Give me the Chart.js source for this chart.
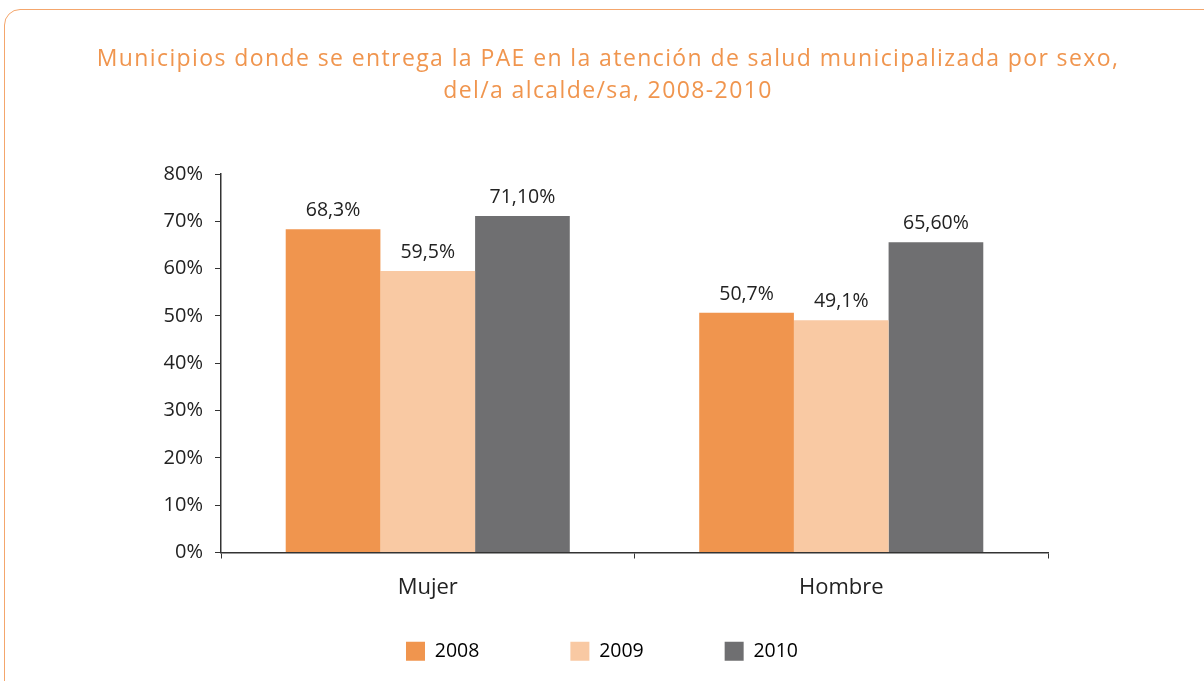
<!DOCTYPE html>
<html>
<head>
<meta charset="utf-8">
<script src="https://cdn.jsdelivr.net/npm/chart.js@4.4.1/dist/chart.umd.min.js"></script>
<style>
  html, body { margin: 0; padding: 0; background: #fff; }
  #wrap { position: relative; width: 1204px; height: 681px; overflow: hidden; }
  #frame { position: absolute; left: 4px; top: 9px; width: 1260px; height: 740px;
           border: 1.5px solid #F4A66C; border-radius: 16px; box-sizing: border-box; }
  #title { position: absolute; left: 6px; top: 42px; width: 1204px; text-align: center;
           font-family: "Open Sans", sans-serif; font-size: 23px; line-height: 31.6px;
           letter-spacing: 1.4px; color: #F0954E; }
  canvas { position: absolute; left: 0; top: 0; }
</style>
</head>
<body>
<div id="wrap">
  <div id="frame"></div>
  <canvas id="c" width="1204" height="681"></canvas>
  <div id="title"></div>
</div>
<script>
const titleLines = ['Municipios donde se entrega la PAE en la atención de salud municipalizada por sexo,', 'del/a alcalde/sa, 2008-2010'];
const categories = ['Mujer', 'Hombre'];
const seriesNames = ['2008', '2009', '2010'];
const values2008 = [68.3, 50.7];
const values2009 = [59.5, 49.1];
const values2010 = [71.1, 65.6];
const labels2008 = ['68,3%', '50,7%'];
const labels2009 = ['59,5%', '49,1%'];
const labels2010 = ['71,10%', '65,60%'];
const yTicks = [0, 10, 20, 30, 40, 50, 60, 70, 80];

const titleEl = document.getElementById('title');
titleLines.forEach((t, i) => {
  if (i) titleEl.appendChild(document.createElement('br'));
  titleEl.appendChild(document.createTextNode(t));
});

const FONT = '"Open Sans", "DejaVu Sans", sans-serif';
const colors = ['#F0954E', '#F9C9A3', '#6F6F71'];

const valueLabelPlugin = {
  id: 'valueLabels',
  afterDatasetsDraw(chart) {
    const ctx = chart.ctx;
    const allLabels = [labels2008, labels2009, labels2010];
    ctx.save();
    ctx.font = '19.5px ' + FONT;
    ctx.fillStyle = '#222';
    ctx.textAlign = 'center';
    ctx.textBaseline = 'alphabetic';
    chart.data.datasets.forEach((ds, di) => {
      const meta = chart.getDatasetMeta(di);
      meta.data.forEach((bar, i) => {
        ctx.fillText(allLabels[di][i], bar.x, bar.y - 13);
      });
    });
    ctx.restore();
  }
};

const legendPad = ['                ', '              ', ''];

new Chart(document.getElementById('c'), {
  type: 'bar',
  data: {
    labels: categories,
    datasets: [
      { label: seriesNames[0], data: values2008, backgroundColor: colors[0] },
      { label: seriesNames[1], data: values2009, backgroundColor: colors[1] },
      { label: seriesNames[2], data: values2010, backgroundColor: colors[2] }
    ]
  },
  options: {
    responsive: false,
    animation: false,
    layout: { padding: { left: 0, right: 0, top: 174, bottom: 10 } },
    datasets: { bar: { categoryPercentage: 0.687, barPercentage: 1.0 } },
    plugins: {
      title: { display: false },
      legend: {
        position: 'bottom',
        labels: {
          boxWidth: 19, boxHeight: 19, padding: 10,
          color: '#222',
          font: { family: FONT, size: 19.5 },
          generateLabels(chart) {
            return chart.data.datasets.map((ds, i) => ({
              text: ds.label + legendPad[i],
              fillStyle: ds.backgroundColor,
              strokeStyle: ds.backgroundColor,
              lineWidth: 0,
              datasetIndex: i
            }));
          }
        }
      },
      tooltip: { enabled: false }
    },
    scales: {
      x: {
        grid: { drawOnChartArea: false, tickLength: 6, color: '#333', offset: true },
        border: { color: '#333', width: 1.5 },
        ticks: { color: '#222', font: { family: FONT, size: 22 }, padding: 16 },
        afterFit(s) { s.height = 79; }
      },
      y: {
        min: 0, max: 80,
        afterBuildTicks(s) { s.ticks = yTicks.map(v => ({ value: v })); },
        grid: { drawOnChartArea: false, tickLength: 6, color: '#333' },
        border: { color: '#333', width: 1.5 },
        ticks: { color: '#222', font: { family: FONT, size: 20 }, padding: 12, callback: v => v + '%' },
        afterFit(s) { s.width = 221; }
      },
      yRight: {
        position: 'right',
        min: 0, max: 80,
        grid: { display: false },
        border: { display: false },
        ticks: { display: false },
        afterFit(s) { s.width = 156; }
      }
    }
  },
  plugins: [valueLabelPlugin]
});
</script>
</body>
</html>
